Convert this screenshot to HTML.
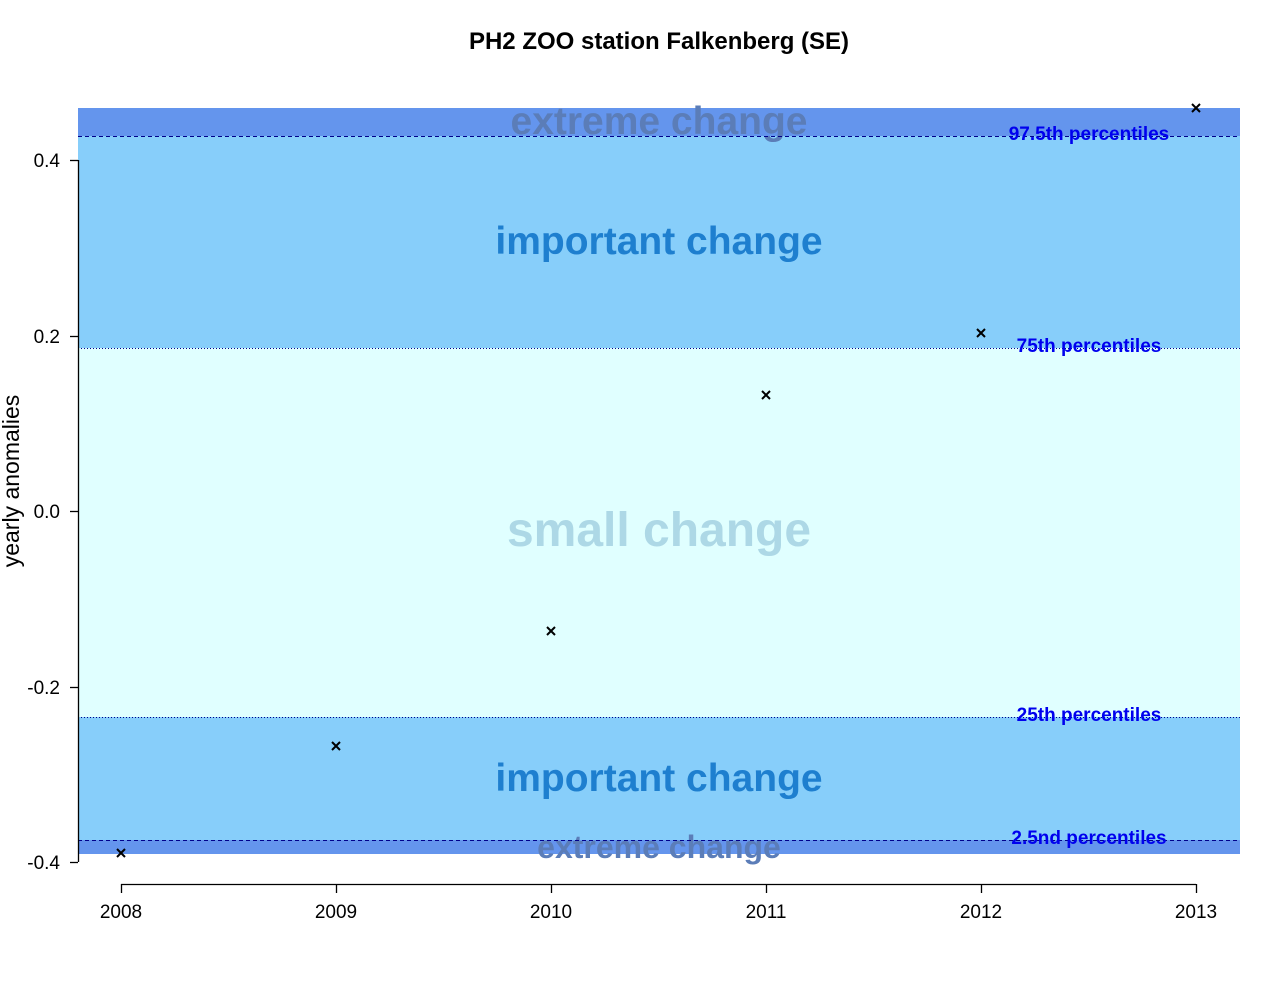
<!DOCTYPE html>
<html><head><meta charset="utf-8"><style>body{margin:0;background:#fff}</style></head><body>
<svg width="1280" height="982" viewBox="0 0 1280 982" xmlns="http://www.w3.org/2000/svg" font-family="Liberation Sans, Arial, sans-serif">
<rect width="1280" height="982" fill="#fff"/>
<text x="659" y="49" font-size="24" font-weight="bold" text-anchor="middle">PH2 ZOO station Falkenberg (SE)</text>
<rect x="78" y="108" width="1162" height="28" fill="#6495ED"/>
<rect x="78" y="136" width="1162" height="212" fill="#87CEFA"/>
<rect x="78" y="348" width="1162" height="369" fill="#E0FFFF"/>
<rect x="78" y="717" width="1162" height="123" fill="#87CEFA"/>
<rect x="78" y="840" width="1162" height="14" fill="#6495ED"/>
<text x="659" y="134" font-size="39" font-weight="bold" fill="#5B7DB8" text-anchor="middle">extreme change</text>
<text x="659" y="254" font-size="39" font-weight="bold" fill="#1E7FCF" text-anchor="middle">important change</text>
<text x="659" y="546" font-size="48" font-weight="bold" fill="#ADD8E6" text-anchor="middle">small change</text>
<text x="659" y="791" font-size="39" font-weight="bold" fill="#1E7FCF" text-anchor="middle">important change</text>
<text x="659" y="858" font-size="32" font-weight="bold" fill="#5B7DB8" text-anchor="middle">extreme change</text>
<g stroke="#00008B" stroke-width="1">
<line x1="78" y1="136.5" x2="1240" y2="136.5" stroke-dasharray="4,3"/>
<line x1="78" y1="348.5" x2="1240" y2="348.5" stroke-dasharray="1,2"/>
<line x1="78" y1="717.5" x2="1240" y2="717.5" stroke-dasharray="1,2"/>
<line x1="78" y1="840.5" x2="1240" y2="840.5" stroke-dasharray="4,3"/>
</g>
<g font-size="19" font-weight="bold" fill="#0000EE" text-anchor="middle">
<text x="1089" y="140">97.5th percentiles</text>
<text x="1089" y="352">75th percentiles</text>
<text x="1089" y="721">25th percentiles</text>
<text x="1089" y="844">2.5nd percentiles</text>
</g>
<g stroke="#000" stroke-width="1.3">
<line x1="78.5" y1="160" x2="78.5" y2="862"/>
<line x1="70" y1="160.5" x2="78" y2="160.5"/>
<line x1="70" y1="336.5" x2="78" y2="336.5"/>
<line x1="70" y1="511.5" x2="78" y2="511.5"/>
<line x1="70" y1="687.5" x2="78" y2="687.5"/>
<line x1="70" y1="862.5" x2="78" y2="862.5"/>
<line x1="121" y1="884.5" x2="1196" y2="884.5"/>
<line x1="121.5" y1="884" x2="121.5" y2="893"/>
<line x1="336.5" y1="884" x2="336.5" y2="893"/>
<line x1="551.5" y1="884" x2="551.5" y2="893"/>
<line x1="766.5" y1="884" x2="766.5" y2="893"/>
<line x1="981.5" y1="884" x2="981.5" y2="893"/>
<line x1="1196.5" y1="884" x2="1196.5" y2="893"/>
</g>
<g font-size="19" text-anchor="end">
<text x="60" y="167">0.4</text>
<text x="60" y="343">0.2</text>
<text x="60" y="518">0.0</text>
<text x="60" y="694">-0.2</text>
<text x="60" y="869">-0.4</text>
</g>
<g font-size="19" text-anchor="middle">
<text x="121" y="918">2008</text>
<text x="336" y="918">2009</text>
<text x="551" y="918">2010</text>
<text x="766" y="918">2011</text>
<text x="981" y="918">2012</text>
<text x="1196" y="918">2013</text>
</g>
<text transform="translate(19,481) rotate(-90)" font-size="23" text-anchor="middle">yearly anomalies</text>
<g stroke="#000" stroke-width="2">
<path d="M117 849l8 8M125 849l-8 8"/>
<path d="M332 742l8 8M340 742l-8 8"/>
<path d="M547 627l8 8M555 627l-8 8"/>
<path d="M762 391l8 8M770 391l-8 8"/>
<path d="M977 329l8 8M985 329l-8 8"/>
<path d="M1192 104l8 8M1200 104l-8 8"/>
</g>
</svg>
</body></html>
